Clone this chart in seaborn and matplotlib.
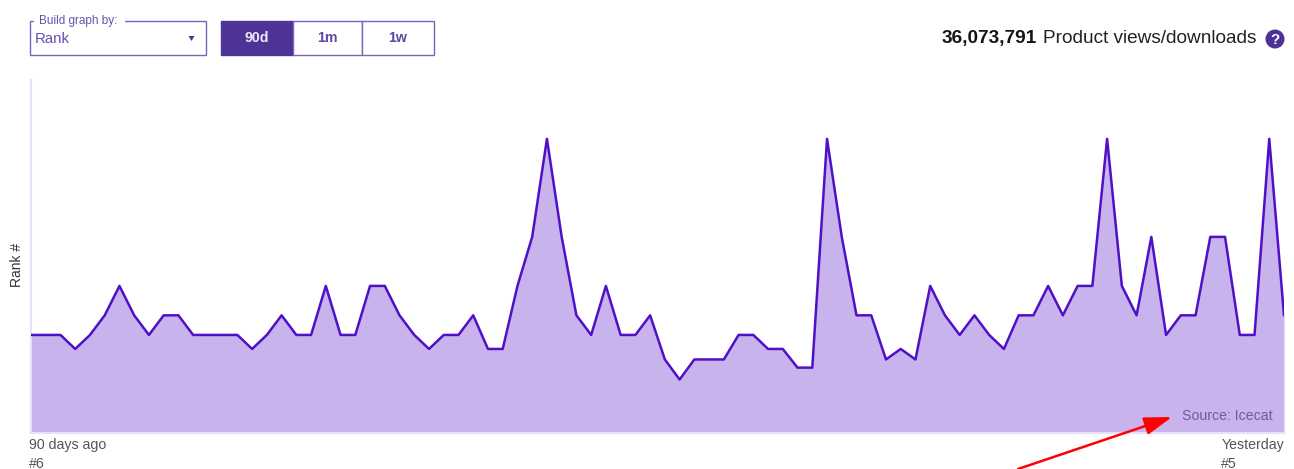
import matplotlib
matplotlib.use("Agg")
import matplotlib.pyplot as plt
import numpy as np
import pandas as pd
import seaborn as sns
from matplotlib.patches import Circle, Polygon, Rectangle

# rank per day, oldest first (the chart plots 1/rank so better ranks stand higher)
ranks = [6, 6, 6, 7, 6, 5, 4, 5, 6, 5, 5, 6, 6, 6, 6, 7, 6, 5, 6, 6, 4, 6,
         6, 4, 4, 5, 6, 7, 6, 6, 5, 7, 7, 4, 3, 2, 3, 5, 6, 4, 6, 6, 5, 8,
         11, 8, 8, 8, 6, 6, 7, 7, 9, 9, 2, 3, 5, 5, 8, 7, 8, 4, 5, 6, 5, 6,
         7, 5, 5, 4, 5, 4, 4, 2, 4, 5, 3, 6, 5, 5, 3, 3, 6, 6, 2, 5]
buttons = ["90d", "1m", "1w"]
total_views = "36,073,791"

PURPLE = "#4e3296"
BORDER = "#7e63b8"
LINE = "#5010c8"
FILL = "#c9b3ed"
AXIS = "#e6e1f8"
GREY = "#555555"

sns.set_theme(style="white")
plt.rcParams["font.family"] = ["Liberation Sans", "DejaVu Sans"]

df = pd.DataFrame({"day": np.arange(len(ranks)), "rank": ranks})
df["height"] = 1 / df["rank"]

W, H = 1294, 469
fig = plt.figure(figsize=(W / 100, H / 100), dpi=100)

# main chart
ax = fig.add_axes([31 / W, 1 - 433 / H, 1253 / W, 353 / H])
ax.fill_between(df["day"], df["height"], 0, color=FILL, lw=0)
sns.lineplot(data=df, x="day", y="height", ax=ax, color=LINE, lw=1.8)
ax.set_xlim(0, len(ranks) - 1)
ax.set_ylim(0, 0.6)
ax.set_xticks([])
ax.set_yticks([])
ax.set_xlabel("")
ax.set_ylabel("")
sns.despine(ax=ax, top=True, right=True)
for s in ["left", "bottom"]:
    ax.spines[s].set_color(AXIS)
    ax.spines[s].set_linewidth(1.5)
    ax.spines[s].set_zorder(1)

# overlay in pixel coordinates for the page controls around the chart
ui = fig.add_axes([0, 0, 1, 1], facecolor="none")
ui.set_xlim(0, W)
ui.set_ylim(H, 0)
ui.axis("off")

# dropdown
ui.add_patch(Rectangle((30, 21), 176, 34, fc="white", ec=BORDER, lw=1))
ui.plot([35, 123], [21, 21], color="white", lw=2.5)
ui.text(39, 21, "Build graph by:", fontsize=8.5, color="#6a4fb0", va="center")
ui.text(35, 39, "Rank", fontsize=10.8, color="#6a4fb0", va="center")
ui.add_patch(Polygon([[188.5, 36], [194.5, 36], [191.5, 41]], fc=PURPLE, lw=0))

# period buttons
edges = [221, 293, 362, 434]
for i, b in enumerate(buttons):
    active = i == 0
    ui.add_patch(Rectangle((edges[i], 21), edges[i + 1] - edges[i], 34,
                           fc=PURPLE if active else "white", ec=PURPLE if active else BORDER, lw=1))
    ui.text((edges[i] + edges[i + 1]) / 2, 37.5, b, fontsize=10.2, fontweight="bold",
            color="#ede8f7" if active else "#5f45a8", ha="center", va="center")

# total counter
ui.text(942, 38.5, total_views, fontsize=13.7, fontweight="bold", color="#151515", va="center")
ui.text(1043, 38.5, "Product views/downloads", fontsize=13.7, color="#222222", va="center")
ui.add_patch(Circle((1275, 39), 9.5, fc=PURPLE, lw=0))
ui.text(1275, 39.5, "?", fontsize=11, fontweight="bold", color="white", ha="center", va="center")

# axis captions
ui.text(17, 265, "Rank #", fontsize=10, color="#333333", rotation=90, ha="center", va="center")
ui.text(29, 444.5, "90 days ago", fontsize=10.2, color=GREY, va="center")
ui.text(29, 463.5, "#6", fontsize=10.2, color=GREY, va="center")
ui.text(1284.5, 444.5, "Yesterday", fontsize=10.2, color=GREY, ha="right", va="center")
ui.text(1221, 463.5, "#5", fontsize=10.2, color=GREY, va="center")
ui.text(1273, 416, "Source: Icecat", fontsize=10.2, color="#6f5a9e", ha="right", va="center")

# red annotation arrow
ui.annotate("", xy=(1172, 417), xytext=(1018, 469),
            arrowprops=dict(arrowstyle="-|>,head_length=1.4,head_width=0.45", color="#ff0000", lw=1.8,
                            shrinkA=0, shrinkB=0))

fig.savefig("out.png", dpi=100)
